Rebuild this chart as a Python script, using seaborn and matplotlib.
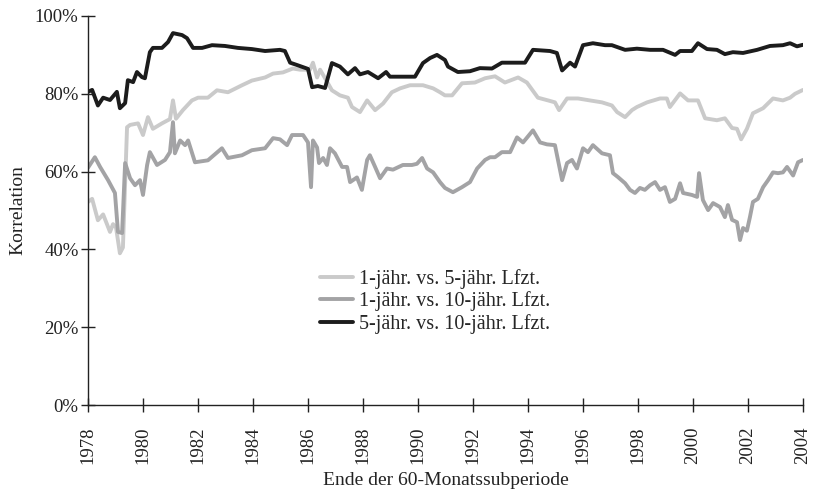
import matplotlib
matplotlib.use("Agg")
import matplotlib.pyplot as plt
import seaborn as sns
import pandas as pd
import numpy as np
from matplotlib.ticker import FuncFormatter

# ---- data ----
s1_name = "1-jähr. vs. 5-jähr. Lfzt."
s2_name = "1-jähr. vs. 10-jähr. Lfzt."
s3_name = "5-jähr. vs. 10-jähr. Lfzt."

s1_t = [1978.00, 1978.15, 1978.36, 1978.55, 1978.80, 1978.91, 1979.02, 1979.16, 1979.27, 1979.42,
        1979.53, 1979.82, 1980.00, 1980.18, 1980.36, 1980.69, 1980.98, 1981.09, 1981.20, 1981.45,
        1981.78, 1982.00, 1982.36, 1982.69, 1983.09, 1983.60, 1983.96, 1984.44, 1984.73, 1985.09,
        1985.45, 1985.71, 1986.07, 1986.18, 1986.33, 1986.44, 1986.62, 1986.87, 1987.16, 1987.45,
        1987.60, 1987.89, 1988.15, 1988.44, 1988.73, 1989.05, 1989.35, 1989.71, 1990.18, 1990.55,
        1990.80, 1990.98, 1991.24, 1991.60, 1992.07, 1992.44, 1992.80, 1993.16, 1993.64, 1993.96,
        1994.36, 1994.73, 1994.98, 1995.13, 1995.42, 1995.82, 1996.25, 1996.69, 1997.05, 1997.24,
        1997.53, 1997.78, 1997.96, 1998.33, 1998.80, 1999.05, 1999.16, 1999.53, 1999.82, 2000.18,
        2000.44, 2000.87, 2001.16, 2001.42, 2001.60, 2001.75, 2001.96, 2002.18, 2002.55, 2002.91,
        2003.27, 2003.53, 2003.71, 2004.00]
s1_v = [52.2, 53.0, 47.5, 49.0, 44.5, 46.5, 45.6, 39.0, 40.5, 71.4,
        72.0, 72.4, 69.4, 74.0, 71.0, 72.4, 73.5, 78.3, 73.6, 75.8,
        78.3, 79.0, 79.0, 80.9, 80.4, 82.2, 83.4, 84.2, 85.2, 85.5,
        86.5, 86.2, 86.2, 88.0, 84.2, 86.2, 84.0, 80.9, 79.6, 79.0,
        76.6, 75.3, 78.3, 75.8, 77.5, 80.4, 81.4, 82.2, 82.2, 81.4,
        80.4, 79.6, 79.6, 82.7, 82.9, 84.0, 84.5, 82.9, 84.2, 82.9,
        79.0, 78.3, 77.8, 75.8, 78.8, 78.8, 78.3, 77.8, 77.0, 75.3,
        74.0, 75.8, 76.6, 77.8, 78.8, 78.8, 76.6, 80.1, 78.3, 78.3,
        73.7, 73.2, 73.7, 71.2, 71.0, 68.3, 71.0, 75.0, 76.3, 78.8,
        78.3, 79.0, 80.0, 81.0]

s2_t = [1978.00, 1978.25, 1978.44, 1978.73, 1978.98, 1979.09, 1979.24, 1979.35, 1979.53, 1979.71,
        1979.89, 1980.00, 1980.15, 1980.25, 1980.51, 1980.80, 1980.98, 1981.09, 1981.16, 1981.35,
        1981.53, 1981.64, 1981.89, 1982.36, 1982.87, 1983.09, 1983.60, 1983.96, 1984.44, 1984.73,
        1984.98, 1985.24, 1985.42, 1985.82, 1986.00, 1986.11, 1986.18, 1986.33, 1986.40, 1986.55,
        1986.69, 1986.80, 1986.98, 1987.24, 1987.42, 1987.53, 1987.78, 1987.96, 1988.15, 1988.25,
        1988.44, 1988.62, 1988.87, 1989.09, 1989.45, 1989.78, 1989.96, 1990.15, 1990.33, 1990.55,
        1990.80, 1990.98, 1991.27, 1991.60, 1991.89, 1992.15, 1992.44, 1992.62, 1992.80, 1993.05,
        1993.35, 1993.60, 1993.82, 1994.18, 1994.44, 1994.69, 1994.98, 1995.24, 1995.42, 1995.60,
        1995.78, 1996.00, 1996.18, 1996.36, 1996.69, 1996.98, 1997.09, 1997.27, 1997.53, 1997.71,
        1997.89, 1998.07, 1998.25, 1998.44, 1998.62, 1998.80, 1998.98, 1999.16, 1999.35, 1999.53,
        1999.64, 1999.96, 2000.15, 2000.22, 2000.36, 2000.55, 2000.73, 2000.98, 2001.16, 2001.27,
        2001.42, 2001.60, 2001.71, 2001.82, 2001.96, 2002.07, 2002.18, 2002.36, 2002.55, 2002.73,
        2002.91, 2003.09, 2003.27, 2003.42, 2003.64, 2003.82, 2004.00]
s2_v = [61.0, 63.7, 61.2, 57.8, 54.5, 44.5, 44.2, 62.2, 58.3, 56.5,
        57.8, 54.0, 61.7, 65.0, 61.7, 63.0, 65.0, 72.7, 64.7, 68.0,
        66.8, 68.0, 62.4, 62.9, 66.0, 63.5, 64.2, 65.5, 66.0, 68.6,
        68.3, 66.8, 69.4, 69.4, 67.5, 56.0, 68.0, 66.2, 62.2, 63.5,
        61.7, 66.0, 64.7, 61.2, 61.2, 57.3, 58.5, 55.3, 63.0, 64.2,
        61.2, 58.3, 60.8, 60.5, 61.7, 61.7, 62.0, 63.5, 60.8, 59.8,
        57.3, 55.8, 54.7, 56.0, 57.3, 60.8, 63.0, 63.7, 63.7, 65.0,
        65.0, 68.8, 67.5, 70.6, 67.5, 67.0, 66.8, 57.8, 62.2, 63.0,
        60.8, 66.0, 65.0, 66.8, 64.7, 64.2, 59.6, 58.6, 57.0, 55.3,
        54.5, 55.8, 55.3, 56.5, 57.3, 55.3, 56.0, 52.2, 53.0, 57.0,
        54.5, 54.0, 53.5, 59.6, 52.7, 50.1, 51.9, 50.9, 48.3, 51.4,
        47.6, 47.0, 42.4, 45.5, 44.8, 48.3, 52.2, 53.0, 56.0, 57.8,
        59.8, 59.6, 59.8, 61.2, 59.0, 62.4, 63.0]

s3_t = [1978.00, 1978.15, 1978.36, 1978.55, 1978.80, 1979.05, 1979.16, 1979.35, 1979.45, 1979.64,
        1979.78, 1979.96, 1980.07, 1980.25, 1980.36, 1980.69, 1980.91, 1981.09, 1981.42, 1981.60,
        1981.82, 1982.15, 1982.51, 1982.98, 1983.45, 1983.96, 1984.44, 1984.98, 1985.16, 1985.35,
        1985.60, 1986.00, 1986.15, 1986.36, 1986.62, 1986.87, 1987.16, 1987.45, 1987.71, 1987.89,
        1988.18, 1988.55, 1988.84, 1988.98, 1989.35, 1989.89, 1990.18, 1990.44, 1990.69, 1990.98,
        1991.09, 1991.45, 1991.89, 1992.25, 1992.69, 1993.05, 1993.53, 1993.89, 1994.18, 1994.80,
        1995.05, 1995.24, 1995.53, 1995.71, 1996.00, 1996.36, 1996.80, 1997.05, 1997.53, 1997.96,
        1998.44, 1998.91, 1999.35, 1999.53, 1999.96, 2000.18, 2000.51, 2000.87, 2001.16, 2001.45,
        2001.82, 2002.33, 2002.80, 2003.27, 2003.53, 2003.78, 2004.00]
s3_v = [80.5, 81.0, 77.0, 79.0, 78.4, 80.5, 76.3, 77.6, 83.5, 83.0,
        85.6, 84.3, 84.0, 90.7, 91.8, 91.8, 93.3, 95.6, 95.1, 94.3,
        91.8, 91.8, 92.5, 92.3, 91.8, 91.5, 91.0, 91.3, 91.0, 88.0,
        87.4, 86.4, 81.7, 82.0, 81.5, 87.9, 87.0, 85.0, 86.6, 85.0,
        85.6, 84.0, 85.6, 84.4, 84.4, 84.4, 87.9, 89.2, 90.0, 88.7,
        87.0, 85.6, 85.8, 86.6, 86.5, 88.0, 88.0, 88.0, 91.3, 91.0,
        90.5, 86.0, 88.0, 87.0, 92.5, 93.0, 92.5, 92.5, 91.3, 91.6,
        91.3, 91.3, 90.0, 91.0, 91.0, 93.0, 91.5, 91.3, 90.2, 90.7,
        90.5, 91.3, 92.3, 92.5, 93.0, 92.2, 92.6]

x_ticks = list(range(1978, 2005, 2))
y_ticks = [0, 20, 40, 60, 80, 100]

df = pd.concat([
    pd.DataFrame({"t": s1_t, "v": s1_v, "s": s1_name}),
    pd.DataFrame({"t": s2_t, "v": s2_v, "s": s2_name}),
    pd.DataFrame({"t": s3_t, "v": s3_v, "s": s3_name}),
], ignore_index=True)

sns.set_style("ticks")
plt.rcParams["font.family"] = ["Liberation Serif", "DejaVu Serif"]

fig = plt.figure(figsize=(8.13, 4.91), dpi=100)
ax = fig.add_axes([88 / 813, 1 - 405 / 491, (803 - 88) / 813, (405 - 16) / 491])

palette = {s1_name: "#cacaca", s2_name: "#a3a3a5", s3_name: "#1c1c1c"}
sns.lineplot(data=df, x="t", y="v", hue="s", palette=palette, linewidth=2.8,
             ax=ax, estimator=None, sort=False)

ax.set_xlim(1978, 2004)
ax.set_ylim(0, 100)
ax.set_xticks(x_ticks)
ax.set_xticklabels([str(x) for x in x_ticks], rotation=90)
ax.set_yticks(y_ticks)
ax.yaxis.set_major_formatter(FuncFormatter(lambda v, p: f"{int(v)}%"))
for sp in ["top", "right"]:
    ax.spines[sp].set_visible(False)
for sp in ["left", "bottom"]:
    ax.spines[sp].set_linewidth(1.0)
    ax.spines[sp].set_color("#222222")
ax.tick_params(axis="both", direction="inout", length=9.5, width=1.0,
               colors="#222222", labelsize=13.5, labelcolor="#222222")
ax.tick_params(axis="x", pad=10.5)
ax.tick_params(axis="y", pad=2)

ax.set_xlabel("Ende der 60-Monatssubperiode", fontsize=14, color="#222222", labelpad=6)
ax.set_ylabel("Korrelation", fontsize=14, color="#222222", labelpad=6)

leg = ax.legend(loc="upper left", bbox_to_anchor=(0.324, 0.35), frameon=False,
                fontsize=14.5, handlelength=1.65, labelspacing=0.13, handletextpad=0.3,
                borderaxespad=0, borderpad=0)
for line in leg.get_lines():
    line.set_linewidth(2.8)

fig.savefig("out.png", dpi=100)
